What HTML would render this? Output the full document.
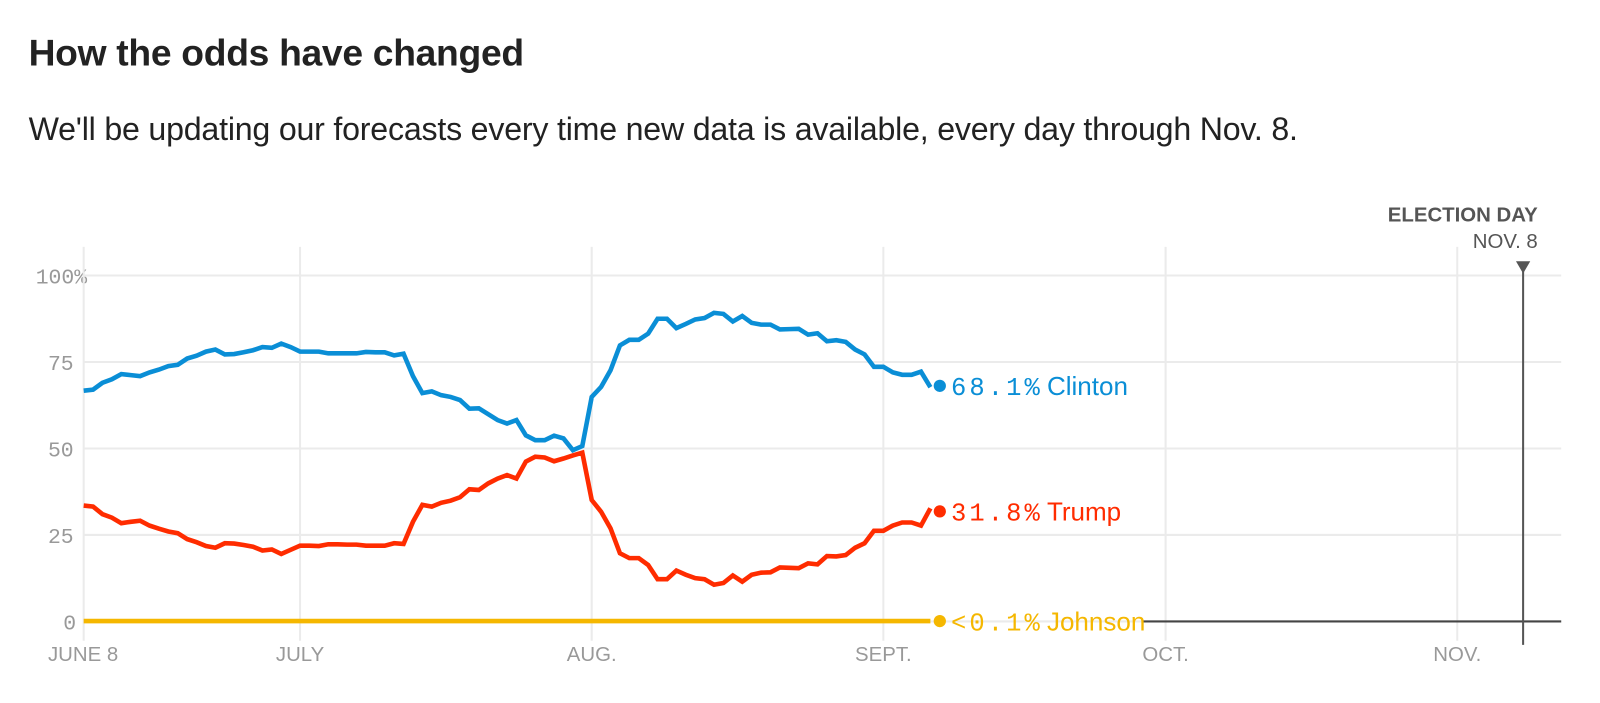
<!DOCTYPE html>
<html><head><meta charset="utf-8"><style>
body{margin:0;background:#fff;width:1600px;height:703px;overflow:hidden;font-family:"Liberation Sans",sans-serif}
#wrap{position:absolute;left:0;top:0;width:1568px;height:689px;transform:scale(1.0204);transform-origin:0 0}
h1{position:absolute;left:28px;top:31px;margin:0;font-size:36.5px;font-weight:bold;color:#222;letter-spacing:-0.3px}
p{position:absolute;left:28px;top:108px;margin:0;font-size:31.5px;color:#222;letter-spacing:-0.2px}
svg{position:absolute;left:0;top:0}
</style></head><body>
<div id="wrap">
<h1>How the odds have changed</h1>
<p>We'll be updating our forecasts every time new data is available, every day through Nov. 8.</p>
<svg id="c" width="1568" height="689"></svg>
</div>
<script>
const clinton=[66.7,67,69,70,71.5,71.2,70.9,72,72.8,73.8,74.2,76,76.8,78,78.6,77.2,77.3,77.8,78.4,79.3,79.1,80.3,79.3,78,78,78,77.5,77.5,77.5,77.5,77.9,77.8,77.8,76.9,77.4,70.9,66,66.5,65.4,64.9,64,61.5,61.6,59.9,58.2,57.2,58.2,53.8,52.4,52.4,53.7,52.9,49.5,50.7,64.9,67.8,72.6,79.8,81.4,81.4,83.2,87.5,87.5,84.8,86,87.3,87.7,89.2,88.9,86.7,88.3,86.3,85.8,85.8,84.4,84.5,84.6,82.9,83.3,81,81.3,80.8,78.6,77.2,73.6,73.6,72,71.3,71.3,72.2,67.7];
const trump=[33.5,33.2,31,30,28.4,28.8,29.1,27.7,26.8,26,25.5,23.8,22.9,21.8,21.3,22.6,22.5,22.1,21.6,20.5,20.8,19.5,20.7,21.9,21.9,21.8,22.3,22.3,22.2,22.2,21.9,21.9,21.9,22.6,22.4,28.8,33.7,33.2,34.3,34.9,35.9,38.2,38,39.9,41.3,42.3,41.3,46.2,47.6,47.4,46.3,47.1,48,48.8,35.1,31.7,26.9,19.7,18.3,18.3,16.3,12.2,12.2,14.7,13.5,12.5,12.2,10.6,11.1,13.3,11.5,13.5,14.1,14.2,15.6,15.5,15.4,16.8,16.5,18.9,18.8,19.2,21.3,22.6,26.2,26.2,27.7,28.6,28.6,27.7,32.7];
const johnson=[0.1,0.1,0.1,0.1,0.1,0.1,0.1,0.1,0.1,0.1,0.1,0.1,0.1,0.1,0.1,0.1,0.1,0.1,0.1,0.1,0.1,0.1,0.1,0.1,0.1,0.1,0.1,0.1,0.1,0.1,0.1,0.1,0.1,0.1,0.1,0.1,0.1,0.1,0.1,0.1,0.1,0.1,0.1,0.1,0.1,0.1,0.1,0.1,0.1,0.1,0.1,0.1,0.1,0.1,0.1,0.1,0.1,0.1,0.1,0.1,0.1,0.1,0.1,0.1,0.1,0.1,0.1,0.1,0.1,0.1,0.1,0.1,0.1,0.1,0.1,0.1,0.1,0.1,0.1,0.1,0.1,0.1,0.1,0.1,0.1,0.1,0.1,0.1,0.1,0.1,0.1];
const finalValues=[68.1,31.8,0.1];
const finalLabels=["68.1%","31.8%","<0.1%"];
const seriesNames=["Clinton","Trump","Johnson"];
const yTicks=[0,25,50,75,100];
const yTickLabels=["0","25","50","75","100%"];
const monthLabels=["JUNE 8","JULY","AUG.","SEPT.","OCT.","NOV."];
const monthDays=[0,23,54,85,115,146];
const electionDay=153;
const NS="http://www.w3.org/2000/svg";
const svg=document.getElementById('c');
const x=d=>82+d*9.22;
const y=v=>609-v*3.39;
function mk(t,a){const e=document.createElementNS(NS,t);for(const k in a)e.setAttribute(k,a[k]);svg.appendChild(e);return e;}
yTicks.forEach((t,i)=>{
 const l=mk('line',{x1:82,x2:1530,y1:y(t),y2:y(t),stroke:'#ebebeb','stroke-width':2});
 
 
 const tx=mk('text',{x:i==4?35:(t==0?62:47),y:y(t)+8,fill:'#999','font-size':21,'font-family':'"Liberation Mono",monospace'});
 tx.textContent=yTickLabels[i];
 
 
});
monthDays.forEach((d,i)=>{
 const l=mk('line',{x1:x(d),x2:x(d),y1:242,y2:628,stroke:'#ebebeb','stroke-width':2});
 
 
 const tx=mk('text',{x:i==0?47:x(d),y:648,fill:'#999','font-size':20,'text-anchor':i==0?'start':'middle'});
 tx.textContent=monthLabels[i];
 
 
});
const ax=mk('line',{x1:1120,x2:1530,y1:609,y2:609,stroke:'#444','stroke-width':2});


const ed=mk('line',{x1:x(electionDay),x2:x(electionDay),y1:265,y2:632,stroke:'#555','stroke-width':2});


const tri=mk('path',{d:`M${x(electionDay)-7},256 L${x(electionDay)+7},256 L${x(electionDay)},268 Z`,fill:'#555'});


const et=mk('text',{x:1507,y:217,fill:'#555','font-size':20,'font-weight':'bold','text-anchor':'end'});
et.textContent='ELECTION DAY';


const et2=mk('text',{x:1507,y:243,fill:'#555','font-size':20,'text-anchor':'end'});
et2.textContent='NOV. 8';


const colors=['#0a8ed6','#ff2c00','#f5b700'];
[clinton,trump,johnson].forEach((s,k)=>{
 const p=mk('polyline',{points:s.map((v,i)=>x(i)+','+y(v)).join(' '),fill:'none',stroke:colors[k],'stroke-width':4.5,'stroke-linejoin':'miter'});
 
 
 const dx=x(s.length),dy=y(finalValues[k]);
 const c=mk('circle',{cx:dx,cy:dy,r:6,fill:colors[k]});
 
 
 const t=mk('text',{x:dx+11,y:dy+9,fill:colors[k],'font-size':25,'font-family':'"Liberation Mono",monospace','letter-spacing':3});
 t.textContent=finalLabels[k];
 
 
 const n=mk('text',{x:dx+105,y:dy+9,fill:colors[k],'font-size':25.5});
 n.textContent=seriesNames[k];
 
 
});
</script>
</body></html>
